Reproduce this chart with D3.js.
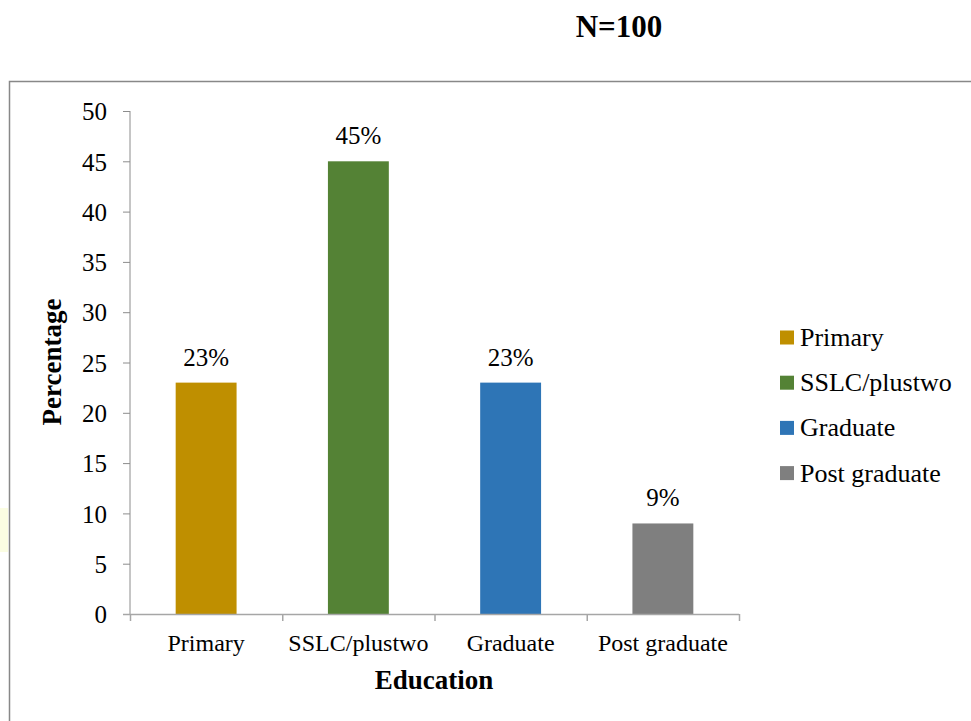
<!DOCTYPE html>
<html><head><meta charset="utf-8">
<script src="https://cdn.jsdelivr.net/npm/d3@7/dist/d3.min.js"></script>
<style>body{margin:0;background:#fff}svg{display:block}text{font-family:"Liberation Serif","Times New Roman",serif;fill:#000}</style>
</head><body>
<script>
const categories = ["Primary", "SSLC/plustwo", "Graduate", "Post graduate"];
const values = [23, 45, 23, 9];
const valueLabels = ["23%", "45%", "23%", "9%"];
const colors = ["#BF8F00", "#548235", "#2E75B6", "#7F7F7F"];
const yTicks = [0, 5, 10, 15, 20, 25, 30, 35, 40, 45, 50];

const W = 971, H = 721;
const svg = d3.select("body").append("svg").attr("width", W).attr("height", H);

// faint yellow strip at left
svg.append("rect").attr("x", 0).attr("y", 508).attr("width", 8).attr("height", 44).attr("fill", "#fbfde2");
// frame
svg.append("path").attr("d", `M9.5,${H} V81.5 H${W}`).attr("fill", "none").attr("stroke", "#888").attr("stroke-width", 1.5);

const x = d3.scaleBand().domain(categories).range([130, 739]).paddingInner(0.6).paddingOuter(0.3);
const xb = d3.scaleBand().domain(categories).range([130, 739]);
const y = d3.scaleLinear().domain([0, 50]).range([614, 111]);

// title
svg.append("text").attr("x", 619).attr("y", 37).attr("text-anchor", "middle")
  .attr("font-size", 31).attr("font-weight", "bold").text("N=100");

// bars
svg.selectAll("rect.bar").data(values).join("rect").attr("class", "bar")
  .attr("x", (d, i) => x(categories[i])).attr("width", x.bandwidth())
  .attr("y", d => y(d)).attr("height", d => y(0) - y(d))
  .attr("fill", (d, i) => colors[i]);

// value labels
svg.selectAll("text.vl").data(values).join("text").attr("class", "vl")
  .attr("x", (d, i) => x(categories[i]) + x.bandwidth() / 2)
  .attr("y", d => y(d) - 17).attr("text-anchor", "middle").attr("font-size", 25)
  .text((d, i) => valueLabels[i]);

// y axis
const yAxis = svg.append("g").attr("transform", "translate(130,0)")
  .call(d3.axisLeft(y).tickValues(yTicks).tickSize(7).tickPadding(16));
yAxis.selectAll("line, path").attr("stroke", "#8c8c8c");
yAxis.select(".domain").attr("d", "M0,111V614");
yAxis.selectAll("text").attr("font-size", 25).attr("font-family", "Liberation Serif").attr("fill", "#000").attr("dy", "0.35em");

// x axis
const xAxis = svg.append("g").attr("transform", "translate(0,614)");
xAxis.append("line").attr("x1", 123).attr("x2", 739).attr("y1", 0.5).attr("y2", 0.5).attr("stroke", "#a6a6a6").attr("stroke-width", 1.5);
const xTickPos = categories.map(c => xb(c)).concat([xb.range()[1]]);
xAxis.selectAll("line.t").data(xTickPos).join("line").attr("class", "t")
  .attr("x1", d => d + 0.5).attr("x2", d => d + 0.5).attr("y1", 0).attr("y2", 7).attr("stroke", "#a6a6a6").attr("stroke-width", 1.5);
xAxis.selectAll("text").data(categories).join("text")
  .attr("x", d => xb(d) + xb.bandwidth() / 2).attr("y", 37).attr("text-anchor", "middle")
  .attr("font-size", 24).text(d => d);

// axis titles
svg.append("text").attr("x", 434).attr("y", 689).attr("text-anchor", "middle")
  .attr("font-size", 27).attr("font-weight", "bold").text("Education");
svg.append("text").attr("transform", "translate(61,362) rotate(-90)").attr("text-anchor", "middle")
  .attr("font-size", 27).attr("font-weight", "bold").text("Percentage");

// legend
const lg = svg.append("g");
categories.forEach((c, i) => {
  const cy = 337.5 + i * 45.2;
  lg.append("rect").attr("x", 780).attr("y", cy - 7).attr("width", 14).attr("height", 14).attr("fill", colors[i]);
  lg.append("text").attr("x", 800).attr("y", cy).attr("dy", "0.33em").attr("font-size", 26).text(c);
});
</script>
</body></html>
